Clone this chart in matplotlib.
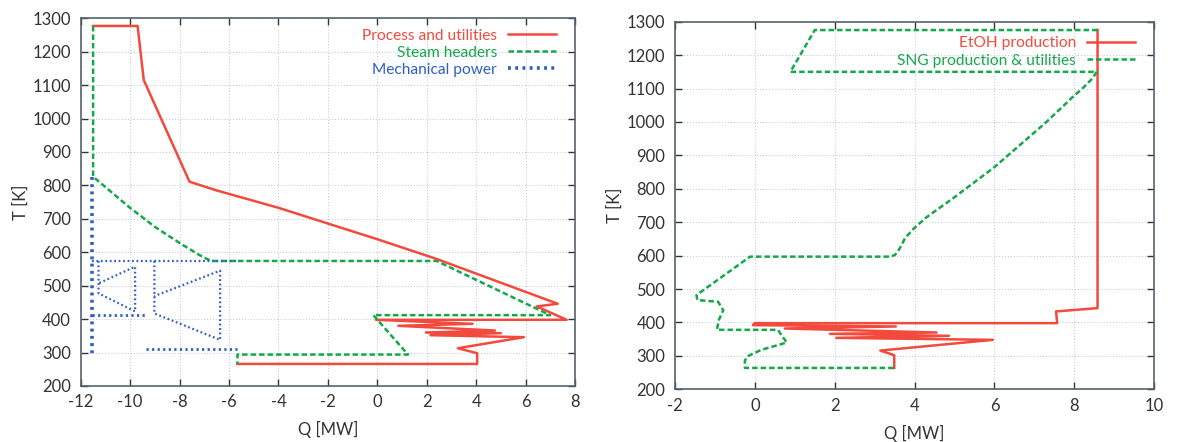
import matplotlib
matplotlib.use("Agg")
import matplotlib.pyplot as plt

plt.rcParams['font.family'] = ['Lato', 'DejaVu Sans']
plt.rcParams['axes.unicode_minus'] = False

# ---------------- Left panel data ----------------
proc_q = [-11.5, -9.7, -9.45, -7.6, -6.5, -4.0, 0.0, 2.4, 7.3, 6.45, 7.66,
          -0.05, 3.85, 0.85, 4.76, 1.96, 5.0, 2.15, 5.93, 3.26, 4.04, 4.04, -5.66]
proc_t = [1277, 1277, 1115, 811, 785, 733, 639, 580, 446, 438, 398,
          398, 386, 380, 366, 360, 358, 352, 346, 313, 298, 266, 266]

steam_q = [-11.5, -11.5, -10.04, -9.0, -7.96, -7.18, -6.73, 2.4, 6.99, -0.16, 1.24, -5.66, -5.66]
steam_t = [1277, 826, 735, 676, 626, 591, 574, 574, 412, 412, 294, 294, 266]

mech_main_q = [-11.53, -11.53]
mech_main_t = [826, 288]
mech_top_q = [-11.53, -5.69]
mech_top_t = [574, 574]
mech_small_q = [-11.28, -11.28, -9.8, -9.8, -11.28]
mech_small_t = [574, 477, 423, 557, 507]
mech_mid_q = [-11.53, -9.36]
mech_mid_t = [411, 411]
mech_big_q = [-9.02, -9.02, -6.36, -6.36, -9.02]
mech_big_t = [574, 417, 338, 545, 469]
mech_bot_q = [-9.36, -5.69]
mech_bot_t = [311, 311]

# ---------------- Right panel data ----------------
etoh_q = [8.58, 8.58, 7.54, 7.57, 0.0, -0.05, 3.53, 0.75, 4.55, 1.88, 4.86, 2.04, 5.96, 3.14, 3.49, 3.49]
etoh_t = [1275, 443, 433, 398, 398, 392, 388, 382, 370, 366, 360, 354, 348, 316, 302, 264]

sng_q = [8.58, 1.5, 0.89, 8.56, 8.45, 8.2, 7.97, 7.3, 6.0, 5.0, 4.3, 3.97, 3.76, 3.63, 3.51, 3.38,
         -0.12, -1.46, -1.44, -0.92, -0.79, -0.9, -0.95, 0.58, 0.62, 0.8, 0.16, -0.2, -0.25, -0.25, 3.49]
sng_t = [1275, 1275, 1150, 1150, 1130, 1100, 1076, 1000, 865, 775, 715, 680, 652, 622, 602, 597,
         597, 482, 467, 462, 437, 408, 378, 378, 370, 340, 318, 298, 285, 264, 264]

left_xticks = [-12, -10, -8, -6, -4, -2, 0, 2, 4, 6, 8]
right_xticks = [-2, 0, 2, 4, 6, 8, 10]
yticks = [200, 300, 400, 500, 600, 700, 800, 900, 1000, 1100, 1200, 1300]

RED = '#f24a3d'
GREEN = '#14a84a'
BLUE = '#2f5fc4'
SPINE = '#55636e'
TXT = '#333333'

fig = plt.figure(figsize=(11.98, 4.42), dpi=100)
axL = fig.add_axes([0.0674, 0.1267, 0.4126, 0.832])
axR = fig.add_axes([0.5634, 0.1192, 0.4001, 0.8317])

lw = 1.8
axL.plot(proc_q, proc_t, color=RED, lw=lw, label='Process and utilities', zorder=3)
axL.plot(steam_q, steam_t, color=GREEN, lw=lw, dashes=(2.2, 1.2), label='Steam headers', zorder=4)
first = True
for q, t, w in [(mech_main_q, mech_main_t, 2.6), (mech_top_q, mech_top_t, 1.6),
                (mech_small_q, mech_small_t, 1.6), (mech_mid_q, mech_mid_t, 2.0),
                (mech_big_q, mech_big_t, 1.6), (mech_bot_q, mech_bot_t, 2.0)]:
    axL.plot(q, t, color=BLUE, lw=w, dashes=(0.8, 1.2),
             label='Mechanical power' if first else None, zorder=5)
    first = False

axR.plot(etoh_q, etoh_t, color=RED, lw=lw, label='EtOH production', zorder=3)
axR.plot(sng_q, sng_t, color=GREEN, lw=lw, dashes=(2.2, 1.2), label='SNG production & utilities', zorder=4)

for ax, xt, xl in [(axL, left_xticks, (-12, 8)), (axR, right_xticks, (-2, 10))]:
    ax.set_xlim(*xl)
    ax.set_ylim(200, 1300)
    ax.set_xticks(xt)
    ax.set_yticks(yticks)
    ax.grid(True, color='#b8c6d4', lw=0.7, ls=(0, (1, 2)))
    ax.tick_params(direction='in', top=True, right=True, length=5, width=1.0,
                   color='#333333', labelsize=12, labelcolor=TXT)
    ax.tick_params(axis='x', pad=6)
    ax.tick_params(axis='y', pad=7)
    for s in ax.spines.values():
        s.set_color(SPINE)
        s.set_linewidth(1.2)
    ax.set_xlabel('Q [MW]', fontsize=12, color=TXT, labelpad=8)
    ax.set_ylabel('T [K]', fontsize=12, color=TXT, labelpad=3)

for ax, anchor in [(axL, (0.9616, 0.972)), (axR, (0.9604, 0.960))]:
    ax.legend(loc='upper right', bbox_to_anchor=anchor, frameon=False, markerfirst=False,
              labelcolor='linecolor', fontsize=11.2, handlelength=3.1, handletextpad=0.7,
              labelspacing=0.2, borderpad=0, borderaxespad=0)

fig.savefig('out.png', dpi=100)
